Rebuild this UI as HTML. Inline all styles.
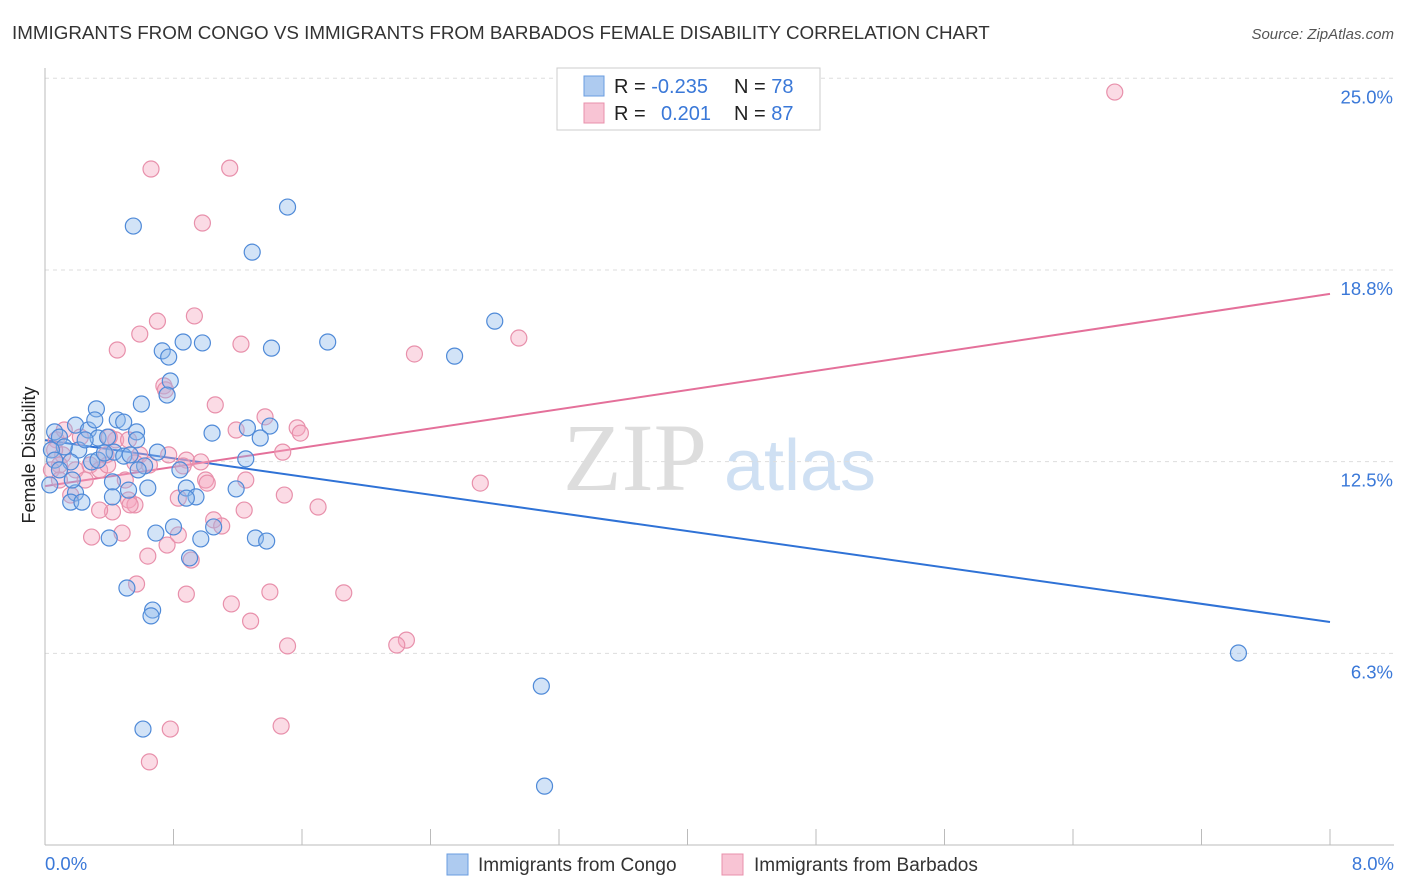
<!DOCTYPE html>
<html><head><meta charset="utf-8"><style>
body{margin:0;background:#fff;font-family:"Liberation Sans",sans-serif;}
svg{display:block}
</style></head><body>
<svg id="chart" width="1406" height="892">
<text x="12" y="39" font-size="18.8" fill="#333">IMMIGRANTS FROM CONGO VS IMMIGRANTS FROM BARBADOS FEMALE DISABILITY CORRELATION CHART</text>
<text x="1394" y="39" font-size="15" fill="#555" font-style="italic" text-anchor="end">Source: ZipAtlas.com</text>
<text x="35" y="455" font-size="18" fill="#222" text-anchor="middle" transform="rotate(-90 35 455)">Female Disability</text>
<g><text x="635" y="490" font-size="96" fill="#ddd" font-family="Liberation Serif,serif" text-anchor="middle">ZIP</text><text x="800" y="490" font-size="72" fill="#cfe0f3" text-anchor="middle">atlas</text></g>
<g id="grid"></g><g id="axes"></g><g id="trend"></g><g id="pts"></g>
<g>
<rect x="557" y="68" width="263" height="62" fill="#fff" stroke="#ccc"/>
<rect x="584" y="76" width="20" height="20" fill="#aecbf0" stroke="#6a9de0"/>
<rect x="584" y="103" width="20" height="20" fill="#f8c4d4" stroke="#e890ab"/>
<text x="614" y="93" font-size="20" fill="#222">R = <tspan fill="#3a78d8">-0.235</tspan><tspan x="734">N = </tspan><tspan fill="#3a78d8">78</tspan></text>
<text x="614" y="120" font-size="20" fill="#222">R = <tspan x="661" fill="#3a78d8">0.201</tspan><tspan x="734">N = </tspan><tspan fill="#3a78d8">87</tspan></text>
</g>
<g>
<rect x="447" y="854" width="21" height="21" fill="#aecbf0" stroke="#6a9de0"/>
<text x="478" y="871" font-size="19" fill="#333">Immigrants from Congo</text>
<rect x="722" y="854" width="21" height="21" fill="#f8c4d4" stroke="#e890ab"/>
<text x="754" y="871" font-size="19" fill="#333">Immigrants from Barbados</text>
</g>
</svg>
<script>
const yTicks=[6.25,12.5,18.75,25];
const yTickLabels=["6.3%","12.5%","18.8%","25.0%"];
const xTickLabels=["0.0%","8.0%"];
const congoX=[0.55,1.51,1.29,2.80,1.76,1.41,0.98,0.86,0.73,0.77,2.55,0.78,0.76,0.60,0.32,0.06,0.09,0.19,0.27,0.31,0.33,0.45,0.49,0.57,0.57,0.39,0.21,0.12,0.04,0.06,0.16,0.29,0.43,0.49,0.53,0.70,0.62,0.84,1.04,1.26,1.40,1.34,1.25,1.19,0.19,0.16,0.23,0.42,0.52,0.64,0.42,0.88,0.94,0.88,1.05,0.80,0.69,0.97,1.31,1.38,0.40,0.90,0.51,0.67,0.66,0.61,3.09,3.11,7.43,0.03,0.09,0.25,0.33,0.58,0.37,0.17];
const congoY=[20.18,20.80,19.33,17.08,16.40,16.20,16.37,16.40,16.11,15.91,15.94,15.13,14.67,14.38,14.22,13.47,13.30,13.69,13.53,13.86,13.27,13.86,13.79,13.47,13.21,13.30,12.88,12.98,12.88,12.55,12.49,12.49,12.81,12.68,12.72,12.81,12.36,12.23,13.43,13.60,13.66,13.27,12.59,11.61,11.48,11.18,11.18,11.84,11.57,11.64,11.35,11.64,11.35,11.31,10.37,10.37,10.17,9.98,10.01,9.91,10.01,9.36,8.38,7.66,7.47,3.78,5.18,1.92,6.26,11.74,12.23,13.21,12.55,12.23,12.78,11.90];
const barbX=[6.66,0.66,1.15,0.98,0.93,0.70,0.59,0.45,1.22,2.30,2.95,0.74,0.75,1.06,1.37,1.57,1.59,1.19,1.48,0.44,0.40,0.52,0.59,0.56,0.07,0.11,0.22,0.28,0.34,0.09,0.19,0.04,0.88,0.97,0.86,1.00,1.01,0.83,1.25,1.49,1.70,1.24,1.05,1.10,0.83,0.52,0.42,0.34,0.29,0.48,0.64,0.76,0.91,0.57,0.88,1.16,1.40,1.28,1.86,2.25,2.19,1.51,2.71,1.47,0.78,0.65,0.09,0.16,0.25,0.39,0.50,0.56,0.06,0.12,0.38,0.65,0.77,0.53];
const barbY=[24.55,22.04,22.07,20.28,17.25,17.08,16.66,16.14,16.33,16.01,16.53,14.97,14.84,14.35,13.96,13.60,13.43,13.53,12.81,13.21,13.30,13.21,12.72,12.46,13.21,12.72,13.30,12.39,12.23,12.39,12.23,12.23,12.55,12.49,12.36,11.90,11.80,11.31,11.90,11.41,11.02,10.92,10.60,10.40,10.11,11.25,10.86,10.92,10.04,10.17,9.42,9.78,9.29,8.51,8.18,7.86,8.25,7.30,8.22,6.68,6.52,6.49,11.80,3.88,3.78,2.71,11.90,11.41,11.90,12.39,11.90,11.09,12.88,13.53,12.72,12.39,12.72,11.09];
const congoTrend=[13.2,7.27];
const barbTrend=[11.7,17.97];
const NS="http://www.w3.org/2000/svg";
const X0=45,X1=1330,Y0=845,PPY=30.67;
function sx(v){return X0+(v/8)*(X1-X0);}
function sy(v){return Y0-v*PPY;}
function mk(p,t,a){const e=document.createElementNS(NS,t);for(const k in a)e.setAttribute(k,a[k]);p.appendChild(e);return e;}
const grid=document.getElementById('grid'),axes=document.getElementById('axes');
yTicks.forEach((v,i)=>{
 const l=mk(grid,'line',{x1:X0,x2:1394,y1:sy(v),y2:sy(v),stroke:'#ddd','stroke-dasharray':'4,4'});
 
 
 const t=mk(axes,'text',{x:1393,y:sy(v)+25,'font-size':18.5,fill:'#3a78d8','text-anchor':'end'});
 t.textContent=yTickLabels[i];
 
 
});
const ax=mk(axes,'line',{x1:X0,x2:X0,y1:68,y2:Y0,stroke:'#bbb'});


const bx=mk(axes,'line',{x1:X0,x2:1394,y1:Y0,y2:Y0,stroke:'#bbb'});


for(let i=0;i<=10;i++){const x=X0+i*(X1-X0)/10;const tk=mk(axes,'line',{x1:x,x2:x,y1:Y0,y2:Y0-16,stroke:'#bbb'});
 
 }
[[0,'start',45],[8,'end',1394]].forEach((d,i)=>{const t=mk(axes,'text',{x:d[2],y:870,'font-size':18.5,fill:'#3a78d8','text-anchor':d[1]});t.textContent=xTickLabels[i];
 
 });
const pts=document.getElementById('pts');
function draw(xs,ys,fill,stroke,name){xs.forEach((x,i)=>{const c=mk(pts,'circle',{cx:sx(x),cy:sy(ys[i]),r:8,fill:fill,'fill-opacity':0.4,stroke:stroke,'stroke-width':1.2});
 
 });}
draw(barbX,barbY,'#f4a6be','#e890ab','barbados-point');
draw(congoX,congoY,'#8fb8ec','#4f8ad8','congo-point');
const tr=document.getElementById('trend');
const l1=mk(tr,'line',{x1:sx(0),y1:sy(congoTrend[0]),x2:sx(8),y2:sy(congoTrend[1]),stroke:'#2f72d6','stroke-width':2});


const l2=mk(tr,'line',{x1:sx(0),y1:sy(barbTrend[0]),x2:sx(8),y2:sy(barbTrend[1]),stroke:'#e4709a','stroke-width':2});


</script>
</body></html>
